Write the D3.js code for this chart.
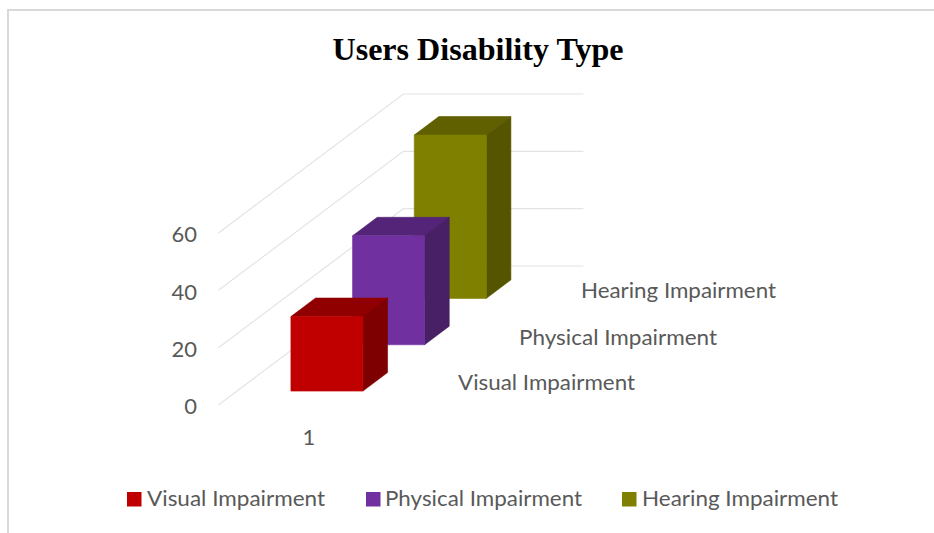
<!DOCTYPE html>
<html>
<head>
<meta charset="utf-8">
<script src="https://cdn.jsdelivr.net/npm/d3@7"></script>
<style>
html,body{margin:0;padding:0;background:#fff;overflow:hidden}
svg{display:block}
</style>
</head>
<body>
<svg id="chart" width="934" height="533"></svg>
<script>
const title = "Users Disability Type";
const categories = ["1"];
const seriesNames = ["Visual Impairment", "Physical Impairment", "Hearing Impairment"];
const seriesValues = [26, 38, 57];
const valueTicks = [0, 20, 40, 60];
const faceFront = ["#c00000", "#7030a0", "#808000"];
const faceTop = ["#900000", "#542478", "#606000"];
const faceSide = ["#7f0000", "#472065", "#555500"];

const W = 934, H = 533;
const svg = d3.select("#chart");
const font = "Lato, Carlito, 'Open Sans', sans-serif";
const textColor = "#595959";

// Chart frame, clipped by the picture on the right and the bottom
svg.append("path")
  .attr("d", d3.line()([[8, H], [8, 10], [W, 10]]))
  .attr("fill", "none").attr("stroke", "#d9d9d9").attr("stroke-width", 2);

svg.append("text").text(title)
  .attr("x", 478).attr("y", 60)
  .attr("text-anchor", "middle")
  .attr("font-family", "'Liberation Serif', 'Times New Roman', serif")
  .attr("font-weight", "bold").attr("font-size", 31)
  .attr("textLength", 291).attr("lengthAdjust", "spacingAndGlyphs")
  .attr("fill", "#000");

// Pseudo-3D plot box: origin + x extent + y extent + depth vector
const origin = [218.4, 405];
const depthVec = [185, -139];
const x = d3.scaleBand().domain(categories).range([0, 180]).paddingInner(0.6).paddingOuter(0.3);
const y = d3.scaleLinear().domain([0, 60]).range([0, 172]);
const z = d3.scaleBand().domain(seriesNames).range([0, 1]).paddingInner(0.6).paddingOuter(0.3);
const project = (px, py, d) => [origin[0] + px + d * depthVec[0], origin[1] - py + d * depthVec[1]];

// Gridlines on side wall and back wall
svg.append("g").selectAll("path").data(valueTicks).join("path")
  .attr("d", v => d3.line()([project(0, y(v), 0), project(0, y(v), 1), project(x.range()[1], y(v), 1)]))
  .attr("fill", "none").attr("stroke", "#e4e4e4").attr("stroke-width", 1.2);

// Value axis labels
svg.append("g").selectAll("text").data(valueTicks).join("text")
  .text(v => v)
  .attr("x", 197).attr("y", v => origin[1] - y(v) + 1.5)
  .attr("dy", "0.35em").attr("text-anchor", "end")
  .attr("font-family", font).attr("font-size", 22).attr("fill", textColor);

// Category label
svg.append("g").selectAll("text").data(categories).join("text")
  .text(d => d)
  .attr("x", 309).attr("y", 437).attr("dy", "0.35em").attr("text-anchor", "middle")
  .attr("font-family", font).attr("font-size", 22).attr("fill", textColor);

// Series (depth) axis labels
const depthLabelX = [458, 519, 581], depthLabelY = [382, 337, 290], depthLabelW = [177, 198, 195];
svg.append("g").selectAll("text").data(seriesNames).join("text")
  .text(d => d)
  .attr("x", (d, i) => depthLabelX[i]).attr("y", (d, i) => depthLabelY[i]).attr("dy", "0.35em")
  .attr("textLength", (d, i) => depthLabelW[i]).attr("lengthAdjust", "spacingAndGlyphs")
  .attr("font-family", font).attr("font-size", 22).attr("fill", textColor);

// Bars, drawn back to front
const bars = seriesNames.map((name, i) => ({name, value: seriesValues[i], i})).reverse();
const poly = pts => d3.line()(pts) + "Z";
bars.forEach(b => {
  const x0 = x(categories[0]), x1 = x0 + x.bandwidth();
  const d0 = z(b.name), d1 = d0 + z.bandwidth();
  const h = y(b.value);
  const g = svg.append("g");
  g.append("path")
    .attr("d", poly([project(x0, h, d0), project(x1, h, d0), project(x1, h, d1), project(x0, h, d1)]))
    .attr("fill", faceTop[b.i]).attr("stroke", faceTop[b.i]).attr("stroke-width", 0.6);
  g.append("path")
    .attr("d", poly([project(x1, 0, d0), project(x1, h, d0), project(x1, h, d1), project(x1, 0, d1)]))
    .attr("fill", faceSide[b.i]).attr("stroke", faceSide[b.i]).attr("stroke-width", 0.6);
  g.append("path")
    .attr("d", poly([project(x0, 0, d0), project(x1, 0, d0), project(x1, h, d0), project(x0, h, d0)]))
    .attr("fill", faceFront[b.i]).attr("stroke", faceFront[b.i]).attr("stroke-width", 0.6);
});

// Legend
const legendSwatchX = [127, 366, 622], legendTextX = [147, 385, 642], legendTextW = [178, 197, 196];
const legend = svg.append("g").selectAll("g").data(seriesNames).join("g");
legend.append("rect")
  .attr("x", (d, i) => legendSwatchX[i]).attr("y", 492).attr("width", 14.5).attr("height", 14.5)
  .attr("fill", (d, i) => faceFront[i]);
legend.append("text").text(d => d)
  .attr("x", (d, i) => legendTextX[i]).attr("y", 498).attr("dy", "0.35em")
  .attr("textLength", (d, i) => legendTextW[i]).attr("lengthAdjust", "spacingAndGlyphs")
  .attr("font-family", font).attr("font-size", 22).attr("fill", textColor);
</script>
</body>
</html>
